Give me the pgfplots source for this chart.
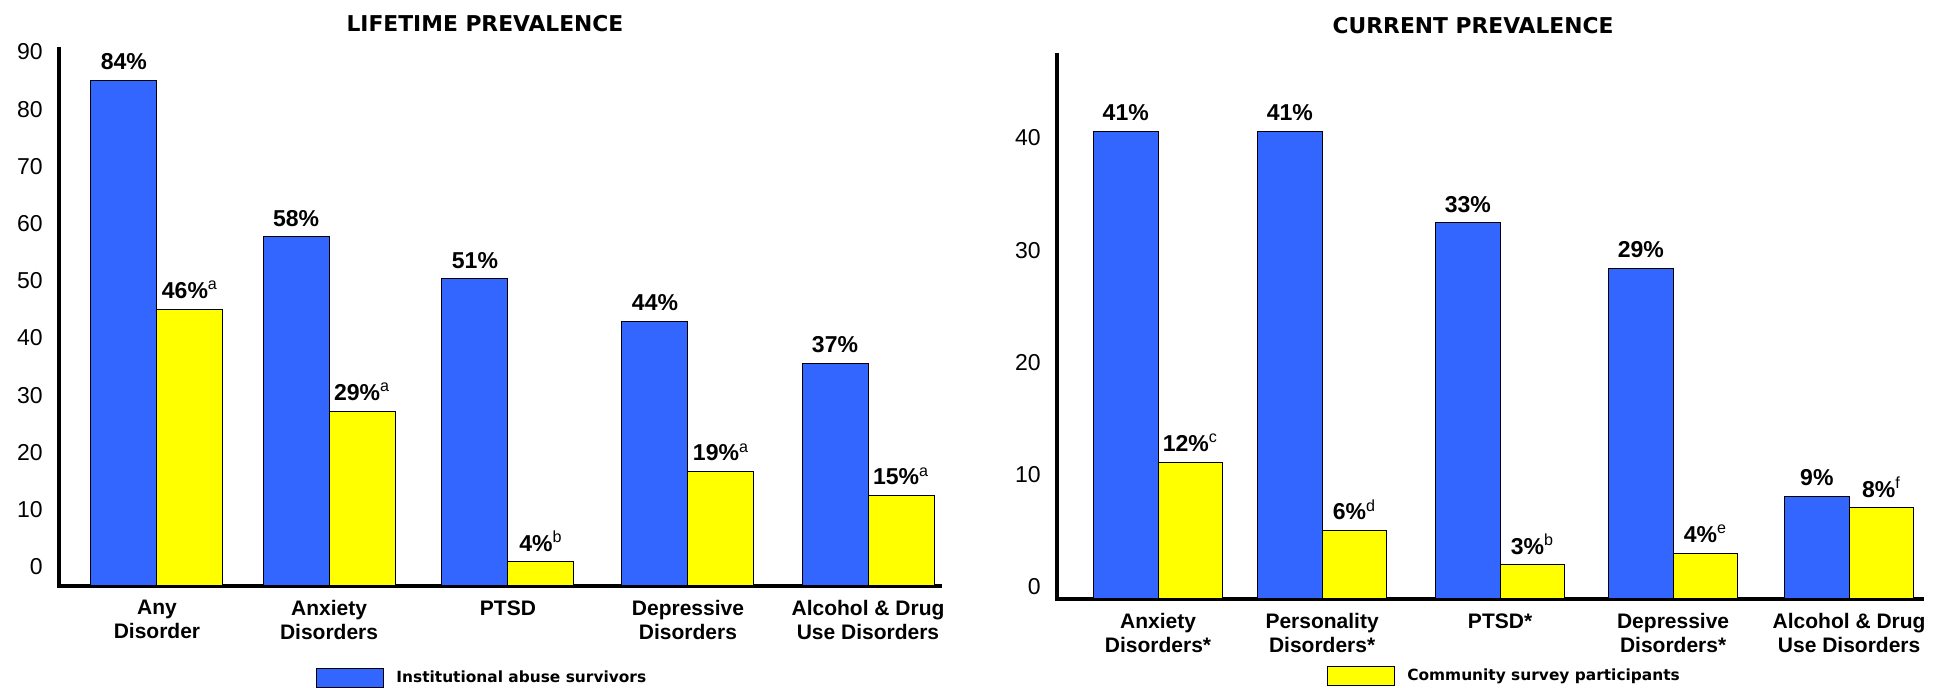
\documentclass[border=0pt]{standalone}
\usepackage{fontspec}
\setmainfont{Liberation Sans}
\newfontfamily\dvs{DejaVu Sans}
\usepackage{pgfplots}
\pgfplotsset{compat=1.18}
\definecolor{survblue}{RGB}{51,102,255}
\definecolor{survyellow}{RGB}{255,255,0}

\pgfplotsset{
  prev/.style={
    scale only axis,
    axis x line=bottom,
    axis y line=left,
    axis line style={-, line width=1.7pt, line cap=rect},
    major tick length=0pt,
    ymin=0,
    clip=false,
    xticklabel style={font=\fontsize{10.5}{12}\selectfont\bfseries, align=center, anchor=north, inner sep=0pt, yshift=-7pt},
    yticklabel style={font=\fontsize{11.5}{11.5}\selectfont, anchor=east, inner sep=0pt, xshift=-8pt},
    nodes near coords,
    point meta=explicit symbolic,
    every node near coord/.append style={font=\fontsize{11.5}{11.5}\selectfont\bfseries, inner sep=0pt, yshift=5pt},
    title style={font=\dvs\bfseries\fontsize{10.9}{12}\selectfont, anchor=center, yshift=-6pt},
    legend style={draw=none, fill=none, anchor=west, inner sep=0pt,
      font=\dvs\bfseries\fontsize{7.7}{8}\selectfont,
      nodes={inner sep=0pt},
      /tikz/every odd column/.append style={column sep=6pt}},
  },
  bluebar/.style 2 args={ybar, bar width=#1, bar shift=-#2, fill=survblue, draw=black, line width=0.5pt,
    every node near coord/.append style={xshift=-#2},
    legend image code/.code={\draw[fill=survblue, draw=black, line width=0.5pt] (0pt,-4.75pt) rectangle (33.5pt,4.75pt);}},
  yellowbar/.style 2 args={ybar, bar width=#1, bar shift=#2, fill=survyellow, draw=black, line width=0.5pt,
    every node near coord/.append style={xshift=#2},
    legend image code/.code={\draw[fill=survyellow, draw=black, line width=0.5pt] (0pt,-4.75pt) rectangle (33.5pt,4.75pt);}},
}

\newcommand{\fnm}[1]{\textsuperscript{\mdseries #1}}

\begin{document}
\begin{tikzpicture}
\path[use as bounding box] (0,0) rectangle (968.5pt,344pt);

% ---------------- Lifetime prevalence ----------------
\begin{axis}[prev,
  at={(29.5pt,51pt)}, anchor=south west,
  width=440.5pt, height=268.5pt,
  xmin=-0.544, xmax=4.35, ymax=89.2,
  xtick={0,0.956,1.95,2.95,3.95},
  xticklabels={{Any\\Disorder},{Anxiety\\Disorders},{PTSD},{Depressive\\Disorders},{Alcohol \& Drug\\Use Disorders}},
  ytick={3.16,12.67,22.17,31.68,41.18,50.69,60.19,69.70,79.20,88.71},
  yticklabels={0,10,20,30,40,50,60,70,80,90},
  title={LIFETIME PREVALENCE},
  title style={at={(0.4835,1.048)}},
  legend style={at={(0.2917,-0.171)}},
]
\addplot[bluebar={33pt}{16.5pt}] coordinates {
  (0,84) [84\%]
  (0.956,58) [58\%]
  (1.95,51) [51\%]
  (2.95,44) [44\%]
  (3.95,37) [37\%]
};
\addlegendentry{Institutional abuse survivors}
\addplot[yellowbar={33pt}{16.5pt}, forget plot] coordinates {
  (0,46) [46\%\fnm{a}]
  (0.956,29) [29\%\fnm{a}]
  (1.95,4) [4\%\fnm{b}]
  (2.95,19) [19\%\fnm{a}]
  (3.95,15) [15\%\fnm{a}]
};
\end{axis}

% ---------------- Current prevalence ----------------
\begin{axis}[prev,
  at={(528.5pt,44.5pt)}, anchor=south west,
  width=432.5pt, height=272pt,
  xmin=-0.574, xmax=4.34, ymax=47.72,
  xtick={0,0.932,1.943,2.926,3.926},
  xticklabels={{Anxiety\\Disorders*},{Personality\\Disorders*},{PTSD*},{Depressive\\Disorders*},{Alcohol \& Drug\\Use Disorders}},
  ytick={1.05,10.9,20.74,30.59,40.44},
  yticklabels={0,10,20,30,40},
  title={CURRENT PREVALENCE},
  title style={at={(0.481,1.055)}},
  legend style={at={(0.312,-0.1415)}},
]
\addplot[bluebar={32.3pt}{16.15pt}, forget plot] coordinates {
  (0,41) [41\%]
  (0.932,41) [41\%]
  (1.943,33) [33\%]
  (2.926,29) [29\%]
  (3.926,9) [9\%]
};
\addplot[yellowbar={32.3pt}{16.15pt}] coordinates {
  (0,12) [12\%\fnm{c}]
  (0.932,6) [6\%\fnm{d}]
  (1.943,3) [3\%\fnm{b}]
  (2.926,4) [4\%\fnm{e}]
  (3.926,8) [8\%\fnm{f}]
};
\addlegendentry{Community survey participants}
\end{axis}
\end{tikzpicture}
\end{document}
